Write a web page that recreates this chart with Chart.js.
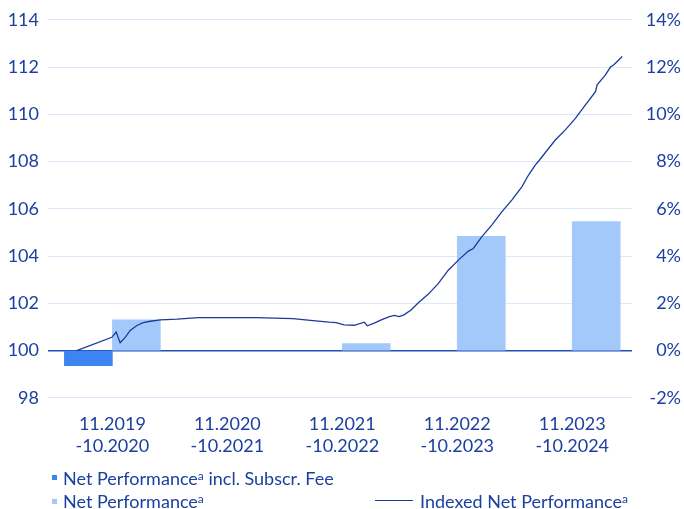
<!DOCTYPE html>
<html>
<head>
<meta charset="utf-8">
<script src="https://cdn.jsdelivr.net/npm/chart.js@4"></script>
<style>
  body { margin: 0; background: #fff; }
  #wrap { position: relative; width: 684px; height: 509px; }
  .legend { position: absolute; font-family: Lato, sans-serif; font-size: 18px; color: #1c40a0; white-space: nowrap; }
  .legend sup { font-size: 12px; vertical-align: 5px; line-height: 0; }
  .swatch { position: absolute; width: 5px; height: 5px; }
  .lineKey { position: absolute; height: 1px; background: #1a3a9c; }
</style>
</head>
<body>
<div id="wrap">
  <canvas id="chart" width="684" height="509"></canvas>
  <div class="swatch" style="left:52px; top:475px; background:#3d84f0;"></div>
  <div class="legend" style="left:63px; top:467px;">Net Performance<sup>a</sup> incl. Subscr. Fee</div>
  <div class="swatch" style="left:52px; top:499px; background:#a3c9fb;"></div>
  <div class="legend" style="left:63px; top:490px;">Net Performance<sup>a</sup></div>
  <div class="lineKey" style="left:375px; top:500px; width:38px;"></div>
  <div class="legend" style="left:420px; top:490px;">Indexed Net Performance<sup>a</sup></div>
</div>
<script>
// yearly periods
const categories = [
    ['11.2019', '-10.2020'],
    ['11.2020', '-10.2021'],
    ['11.2021', '-10.2022'],
    ['11.2022', '-10.2023'],
    ['11.2023', '-10.2024']
];
const feeValues = [-0.64, null, null, null, null];   // % incl. subscription fee
const netValues = [1.30, null, 0.30, 4.84, 5.46];    // %

// indexed net performance, months since 11.2019
const lineMonths = [2.27, 5.94, 6.39, 6.81, 7.34, 7.86, 8.56, 9.22, 9.96, 11.0, 12.76, 14.99,
    20.96, 24.84, 26.94, 28.62, 29.35, 30.19, 31.24, 32.29, 32.60, 33.33, 34.07, 34.91, 35.43,
    35.95, 36.48, 37.21, 37.91, 38.96, 40.01, 41.06, 42.2, 43.16, 43.68, 44.55, 45.60, 46.65,
    47.69, 48.74, 49.44, 50.14, 50.73, 52.23, 53.28, 54.33, 55.38, 56.43, 56.60, 57.47, 57.99,
    58.35, 59.22];
const lineValues = [100.00, 100.56, 100.78, 100.33, 100.56, 100.85, 101.06, 101.18, 101.24, 101.30, 101.33, 101.39,
    101.39, 101.35, 101.27, 101.20, 101.18, 101.09, 101.07, 101.20, 101.05, 101.16, 101.30, 101.44, 101.49,
    101.44, 101.52, 101.73, 102.01, 102.38, 102.83, 103.40, 103.86, 104.21, 104.32, 104.81, 105.31, 105.87,
    106.37, 106.93, 107.43, 107.85, 108.14, 108.91, 109.34, 109.83, 110.40, 110.96, 111.25, 111.67, 112.00,
    112.10, 112.45];

const leftTicks = [98, 114];
const rightTicks = [-2, 14];

const X_MIN = -0.56, X_MAX = 4.52;
const textColor = '#1c40a0';
const font = { family: 'Lato', size: 18 };

new Chart(document.getElementById('chart'), {
    data: {
        datasets: [
            {
                type: 'bar',
                label: 'Net Performance incl. Subscr. Fee',
                data: feeValues.map((v, i) => ({ x: i, y: v })),
                backgroundColor: '#3d84f0',
                yAxisID: 'y2',
                barThickness: 48,
                order: 2
            },
            {
                type: 'bar',
                label: 'Net Performance',
                data: netValues.map((v, i) => ({ x: i, y: v })),
                backgroundColor: '#a3c9fb',
                yAxisID: 'y2',
                barThickness: 48,
                order: 2
            },
            {
                type: 'line',
                label: 'Indexed Net Performance',
                // month m sits at (m - 6) / 12 on the yearly axis (mid-year = category centre)
                data: lineMonths.map((m, i) => ({ x: (m - 6) / 12, y: lineValues[i] })),
                borderColor: '#1a3a9c',
                borderWidth: 1.3,
                pointRadius: 0,
                tension: 0,
                yAxisID: 'y',
                order: 1
            }
        ]
    },
    options: {
        responsive: false,
        devicePixelRatio: 1,
        animation: false,
        layout: { padding: { left: 8, right: 3, top: 11, bottom: 44 } },
        plugins: { legend: { display: false }, tooltip: { enabled: false } },
        scales: {
            x: {
                type: 'linear',
                offset: false,
                min: X_MIN,
                max: X_MAX,
                afterBuildTicks: axis => { axis.ticks = categories.map((c, i) => ({ value: i })); },
                afterFit: axis => { axis.paddingLeft = 0; axis.paddingRight = 0; },
                grid: { display: false },
                border: { display: false },
                ticks: {
                    color: textColor,
                    font: font,
                    padding: 8,
                    maxRotation: 0,
                    autoSkip: false,
                    callback: v => categories[v]
                }
            },
            y: {
                position: 'left',
                min: leftTicks[0],
                max: leftTicks[1],
                afterFit: axis => { axis.width = 40; },
                border: { display: false },
                grid: {
                    color: ctx => ctx.tick.value === 100 ? '#1f4fb8' : '#dbe7fa',
                    lineWidth: ctx => ctx.tick.value === 100 ? 1.5 : 1,
                    drawTicks: false
                },
                ticks: { stepSize: 2, color: textColor, font: font, padding: 9 }
            },
            y2: {
                position: 'right',
                min: rightTicks[0],
                max: rightTicks[1],
                afterFit: axis => { axis.width = 49; },
                border: { display: false },
                grid: { drawOnChartArea: false, drawTicks: false },
                ticks: {
                    stepSize: 2,
                    color: textColor,
                    font: font,
                    padding: 9,
                    crossAlign: 'far',
                    callback: v => v + '%'
                }
            }
        }
    }
});
</script>
</body>
</html>
